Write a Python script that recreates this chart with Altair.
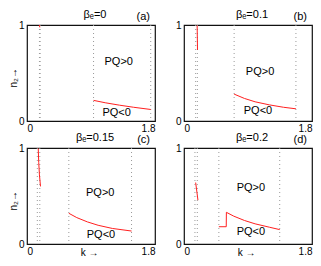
import altair as alt
import pandas as pd

K_MAX = 1.8
FONT = "Liberation Sans"

panel_ids = ["a", "b", "c", "d"]
panel_titles = ["βₑ=0", "βₑ=0.1", "βₑ=0.15", "βₑ=0.2"]
y_title_text = "n₂→"
x_title_text = "k →"

# dotted vertical guide lines (k positions) per panel
dotted_a = [0.175, 0.185, 0.936, 1.74]
dotted_b = [0.164, 0.188, 0.705, 1.574]
dotted_c = [0.145, 0.18, 0.588, 1.47]
dotted_d = [0.154, 0.187, 0.49, 1.346]

# red curves: (segment id, k, n2)
a_seg = [1, 1, 2, 2, 2, 2, 2]
a_k = [0.175, 0.18, 0.936, 1.1, 1.3, 1.5, 1.74]
a_n = [1.0, 0.975, 0.215, 0.19, 0.165, 0.143, 0.12]

b_seg = [1, 1, 2, 2, 2, 2, 2, 2]
b_k = [0.185, 0.19, 0.705, 0.85, 1.0, 1.2, 1.4, 1.574]
b_n = [0.995, 0.74, 0.28, 0.235, 0.2, 0.168, 0.143, 0.127]

c_seg = [1, 1, 1, 1, 2, 2, 2, 2, 2, 2]
c_k = [0.158, 0.165, 0.175, 0.19, 0.588, 0.7, 0.85, 1.0, 1.2, 1.47]
c_n = [0.995, 0.85, 0.72, 0.60, 0.32, 0.275, 0.23, 0.195, 0.162, 0.135]

d_seg = [1, 1, 2, 2, 2, 2, 2, 2, 2, 2]
d_k = [0.164, 0.196, 0.49, 0.594, 0.596, 0.7, 0.85, 1.0, 1.2, 1.346]
d_n = [0.64, 0.457, 0.18, 0.18, 0.33, 0.29, 0.245, 0.21, 0.175, 0.15]

# region labels: k, n2 positions per panel
pq_pos_k = [1.29, 1.07, 1.03, 0.94]
pq_pos_n = [0.61, 0.51, 0.53, 0.58]
pq_neg_k = [1.26, 1.04, 1.04, 0.94]
pq_neg_n = [0.08, 0.10, 0.09, 0.12]

dotted_all = [dotted_a, dotted_b, dotted_c, dotted_d]
curves_all = [(a_seg, a_k, a_n), (b_seg, b_k, b_n), (c_seg, c_k, c_n), (d_seg, d_k, d_n)]

W = 128
H = 96


def make_panel(i, y_title, x_title):
    seg, ks, ns = curves_all[i]
    curve_df = pd.DataFrame({"seg": seg, "k": ks, "n": ns, "order": list(range(len(ks)))})
    dot_df = pd.DataFrame({"k": dotted_all[i]})
    lab_df = pd.DataFrame({
        "k": [pq_pos_k[i], pq_neg_k[i]],
        "n": [pq_pos_n[i], pq_neg_n[i]],
        "label": ["PQ>0", "PQ<0"],
    })
    xscale = alt.Scale(domain=[0, K_MAX], nice=False, zero=False)
    yscale = alt.Scale(domain=[0, 1], nice=False)
    xaxis = alt.Axis(values=[0, K_MAX], format="~g", grid=False, ticks=False, domain=False,
                     labelPadding=2, labelFontSize=10, labelColor="black", title=None)
    yaxis = alt.Axis(values=[0, 1], format="~g", grid=False, ticks=False, domain=False,
                     labelPadding=3, labelFontSize=10, labelColor="black", title=None)

    dots = alt.Chart(dot_df).mark_rule(color="#999999", strokeDash=[1, 3], strokeWidth=1).encode(
        x=alt.X("k:Q", scale=xscale, axis=xaxis)
    )
    lines = alt.Chart(curve_df).mark_line(color="#ff2020", strokeWidth=1).encode(
        x=alt.X("k:Q", scale=xscale, axis=xaxis),
        y=alt.Y("n:Q", scale=yscale, axis=yaxis),
        detail="seg:N",
        order="order:Q",
    )
    labels = alt.Chart(lab_df).mark_text(fontSize=11, font=FONT, color="black").encode(
        x=alt.X("k:Q", scale=xscale),
        y=alt.Y("n:Q", scale=yscale),
        text="label:N",
    )
    head_df = pd.DataFrame({"t": ["(" + panel_ids[i] + ")"], "title": [panel_titles[i]]})
    corner = alt.Chart(head_df).mark_text(fontSize=11, font=FONT, color="black",
                                           align="right", baseline="bottom").encode(
        x=alt.value(W - 5), y=alt.value(-3), text="t:N"
    )
    title = alt.Chart(head_df).mark_text(fontSize=11, font=FONT, color="black",
                                          align="center", baseline="bottom").encode(
        x=alt.value(W / 2 + 4), y=alt.value(-5), text="title:N"
    )
    layers = [dots, lines, labels, corner, title]
    if y_title:
        ydf = pd.DataFrame({"t": [y_title_text]})
        layers.append(alt.Chart(ydf).mark_text(fontSize=10, font=FONT, color="black",
                                               angle=270, align="center", baseline="middle").encode(
            x=alt.value(-13), y=alt.value(H * 0.55), text="t:N"))
    if x_title:
        xdf = pd.DataFrame({"t": [x_title_text]})
        layers.append(alt.Chart(xdf).mark_text(fontSize=10, font=FONT, color="black",
                                               align="center", baseline="top").encode(
            x=alt.value(W * 0.49), y=alt.value(H + 4), text="t:N"))
    return alt.layer(*layers).properties(width=W, height=H)


chart = alt.concat(
    make_panel(0, True, False), make_panel(1, False, False),
    make_panel(2, True, True), make_panel(3, False, True),
    columns=2, spacing={"row": 27, "column": 29}, bounds="flush",
).properties(padding=0).configure(
    font=FONT,
    view=alt.ViewConfig(stroke="#111111", strokeWidth=1.2),
)

chart.save("out.html", embed_options={"renderer": "svg", "actions": False})
